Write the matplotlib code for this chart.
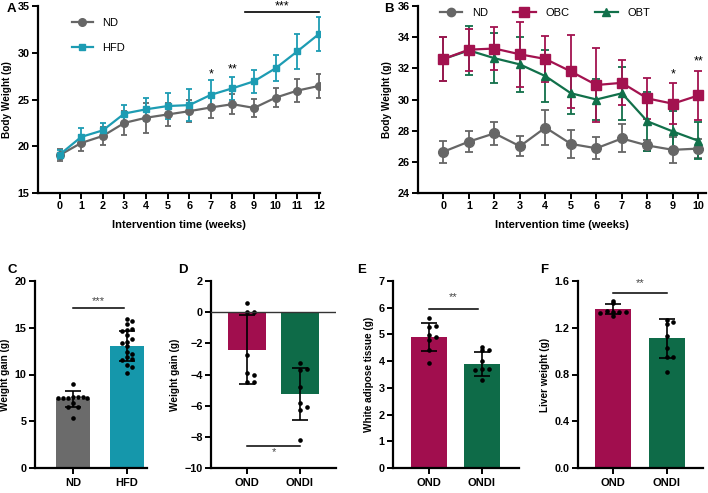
import numpy as np
import matplotlib
matplotlib.use('Agg')
from matplotlib import pyplot as plt
from matplotlib.lines import Line2D

plt.rcParams['font.family'] = ['Liberation Sans', 'DejaVu Sans']
plt.rcParams['font.weight'] = 'bold'
plt.rcParams['axes.labelweight'] = 'bold'

# ---- data ----
# A: body weight, ND vs HFD
weeks_a = list(range(13))
nd_a = [19.05, 20.35, 21.1, 22.5, 23.05, 23.4, 23.75, 24.15, 24.5, 24.1, 25.2, 25.95, 26.45]
nd_a_sd = [0.65, 0.85, 1.0, 1.3, 1.6, 1.2, 1.2, 1.1, 1.1, 1.0, 1.0, 1.25, 1.3]
hfd_a = [19.1, 21.0, 21.7, 23.5, 23.95, 24.3, 24.4, 25.5, 26.2, 26.95, 28.35, 30.15, 32.0]
hfd_a_sd = [0.5, 0.9, 0.8, 0.9, 1.25, 1.35, 1.7, 1.55, 1.25, 1.25, 1.4, 1.9, 1.85]

# B: body weight, ND / OBC / OBT
weeks_b = list(range(11))
nd_b = [26.65, 27.3, 27.83, 27.0, 28.2, 27.15, 26.87, 27.5, 27.05, 26.77, 26.85]
nd_b_sd = [0.7, 0.7, 0.72, 0.65, 1.1, 0.9, 0.7, 0.9, 0.35, 0.85, 0.6]
obc_b = [32.6, 33.2, 33.27, 32.9, 32.6, 31.8, 30.93, 31.07, 30.07, 29.73, 30.26]
obc_b_sd = [1.4, 1.35, 1.4, 2.1, 1.45, 2.35, 2.4, 1.45, 1.3, 1.3, 1.6]
obt_b = [32.6, 33.15, 32.65, 32.25, 31.5, 30.4, 30.0, 30.4, 28.6, 27.95, 27.35]
obt_b_sd = [1.4, 1.55, 1.6, 1.75, 1.65, 1.3, 1.3, 1.7, 1.9, 1.3, 1.2]

# C: weight gain ND / HFD
groups_c = ['ND', 'HFD']
mean_c = [7.39, 13.04]
sd_c = [0.87, 1.6]
dots_c = [
    [8.95, 7.55, 7.55, 7.5, 7.55, 7.5, 7.5, 7.45, 6.95, 6.5, 6.5, 5.4],
    [15.9, 15.7, 15.4, 14.75, 14.85, 14.6, 14.2, 13.75, 13.5, 13.4, 13.0,
     12.45, 12.2, 11.9, 11.7, 11.55, 11.0, 10.75, 10.2],
]

groups_o = ['OND', 'ONDI']
# D: weight gain
mean_d = [-2.4, -5.24]
sd_d = [2.22, 1.67]
dots_d = [
    [0.58, 0.04, 0.04, -2.74, -3.9, -4.06, -4.5, -4.5],
    [-3.27, -3.68, -3.64, -4.8, -5.8, -6.1, -6.3, -8.2],
]
# E: white adipose tissue
mean_e = [4.9, 3.9]
sd_e = [0.52, 0.45]
dots_e = [
    [5.6, 5.28, 5.32, 4.97, 4.9, 4.8, 4.43, 3.93],
    [4.52, 4.42, 4.4, 4.0, 3.72, 3.72, 3.68, 3.28],
]
# F: liver weight
mean_f = [1.36, 1.11]
sd_f = [0.045, 0.165]
dots_f = [
    [1.43, 1.41, 1.335, 1.335, 1.34, 1.335, 1.33, 1.30],
    [1.27, 1.235, 1.25, 1.13, 1.03, 0.95, 0.95, 0.82],
]

GREY = '#666666'
TEAL = '#1d9cb3'
MAG = '#a3124f'
GRN = '#11704a'

W, H = 708, 493
fig = plt.figure(figsize=(W / 100, H / 100), dpi=100)


def box(l, t, r, b):
    return [l / W, 1 - b / H, (r - l) / W, (b - t) / H]


def style(ax):
    for s in ['top', 'right']:
        ax.spines[s].set_visible(False)
    for s in ['left', 'bottom']:
        ax.spines[s].set_linewidth(1.6)
    ax.tick_params(width=1.4, length=4, labelsize=7.8, pad=2)
    for lab in ax.get_xticklabels() + ax.get_yticklabels():
        lab.set_fontweight('bold')


def swarm(vals, dx, dy):
    placed = []
    xs = []
    for v in vals:
        cands = [0]
        for k in range(1, 8):
            cands += [k * dx, -k * dx]
        for c in cands:
            ok = True
            for (pv, px) in placed:
                if abs(pv - v) < dy and abs(px - c) < dx * 0.95:
                    ok = False
                    break
            if ok:
                break
        placed.append((v, c))
        xs.append(c)
    return np.array(xs)


def handle(color, marker, ms):
    return Line2D([], [], color=color, marker=marker, ms=ms, lw=1.6)


# ---- A ----
ax = fig.add_axes(box(38, 6, 320, 193))
kw = dict(lw=1.6, elinewidth=1.3, capsize=2.3, capthick=1.3)
ax.errorbar(weeks_a, nd_a, yerr=nd_a_sd, color=GREY, marker='o', ms=5.5, **kw)
ax.errorbar(weeks_a, hfd_a, yerr=hfd_a_sd, color=TEAL, marker='s', ms=5, **kw)
ax.set_xlim(-1, 12.05)
ax.set_ylim(15, 35)
ax.set_xticks(weeks_a)
ax.set_yticks([15, 20, 25, 30, 35])
ax.set_xlabel('Intervention time (weeks)', fontsize=8, labelpad=6)
ax.set_ylabel('Body Weight (g)', fontsize=7.2, labelpad=4)
style(ax)
leg = ax.legend([handle(GREY, 'o', 5.5), handle(TEAL, 's', 5)], ['ND', 'HFD'],
                loc='upper left', bbox_to_anchor=(0.12, 0.935), frameon=False,
                fontsize=8, handlelength=1.9, labelspacing=1.35, borderpad=0,
                borderaxespad=0, handletextpad=0.8)
for t in leg.get_texts():
    t.set_fontweight('normal')
ax.text(7, 27.7, '*', ha='center', va='center', fontsize=9, fontweight='normal')
ax.text(8, 28.25, '**', ha='center', va='center', fontsize=9, fontweight='normal')
ax.plot([8.6, 12], [34.35, 34.35], color='black', lw=1.2, clip_on=False)
ax.text(10.3, 35.0, '***', ha='center', va='center', fontsize=9, fontweight='normal',
        clip_on=False)

# ---- B ----
ax = fig.add_axes(box(418, 6, 706, 193))
kw = dict(lw=1.6, elinewidth=1.3, capsize=2.8, capthick=1.3)
ax.errorbar(weeks_b, nd_b, yerr=nd_b_sd, color=GREY, marker='o', ms=7, **kw)
ax.errorbar(weeks_b, obt_b, yerr=obt_b_sd, color=GRN, marker='^', ms=6, **kw)
ax.errorbar(weeks_b, obc_b, yerr=obc_b_sd, color=MAG, marker='s', ms=7, **kw)
ax.set_xlim(-1, 10.3)
ax.set_ylim(24, 36)
ax.set_xticks(weeks_b)
ax.set_yticks(range(24, 37, 2))
ax.set_xlabel('Intervention time (weeks)', fontsize=8, labelpad=6)
ax.set_ylabel('Body Weight (g)', fontsize=7.2, labelpad=4)
style(ax)
leg = ax.legend([handle(GREY, 'o', 6), handle(MAG, 's', 7), handle(GRN, '^', 6)],
                ['ND', 'OBC', 'OBT'], loc='upper left',
                bbox_to_anchor=(0.075, 0.99), ncol=3, frameon=False, fontsize=8,
                handlelength=2.0, borderpad=0, borderaxespad=0, columnspacing=2.3,
                handletextpad=0.9)
for t in leg.get_texts():
    t.set_fontweight('normal')
ax.text(9, 31.6, '*', ha='center', va='center', fontsize=9, fontweight='normal')
ax.text(10, 32.45, '**', ha='center', va='center', fontsize=9, fontweight='normal',
        clip_on=False)


def bar_panel(rect, labels, means, sds, dots, colors, ylim, yticks, ylabel,
              xlim, width, dx, dy):
    ax = fig.add_axes(rect)
    x = np.arange(len(labels))
    ax.bar(x, means, width=width, color=colors, zorder=1)
    ax.errorbar(x, means, yerr=sds, fmt='none', ecolor='black', elinewidth=1.2,
                capsize=6, capthick=1.2, zorder=2)
    for i, vals in enumerate(dots):
        ax.scatter(i + swarm(vals, dx, dy), vals, s=11, color='black', zorder=3,
                   linewidths=0)
    ax.set_xlim(*xlim)
    ax.set_ylim(*ylim)
    ax.set_yticks(yticks)
    ax.set_xticks(x)
    ax.set_xticklabels(labels)
    ax.set_ylabel(ylabel, fontsize=7.2, labelpad=3)
    style(ax)
    ax.tick_params(axis='x', labelsize=8, pad=3)
    for lab in ax.get_xticklabels():
        lab.set_fontweight('bold')
    return ax


# ---- C ----
ax = bar_panel(box(35, 281, 147, 468), groups_c, mean_c, sd_c, dots_c,
               ['#6b6b6b', '#1597ab'], (0, 20), [0, 5, 10, 15, 20],
               'Weight gain (g)', (-0.7, 1.37), 0.63, 0.09, 0.5)
ax.plot([0, 0.95], [17.1, 17.1], color='black', lw=1.1)
ax.text(0.47, 17.85, '***', ha='center', va='center', fontsize=8, color='#444444',
        fontweight='normal')

# ---- D ----
ax = bar_panel(box(211, 281, 336, 468), groups_o, mean_d, sd_d, dots_d,
               ['#a10e4e', '#0e6b48'], (-10, 2), range(-10, 3, 2),
               'Weight gain (g)', (-0.68, 1.68), 0.7, 0.13, 0.35)
ax.axhline(0, color='#333333', lw=1.0, zorder=4)
ax.plot([0, 1], [-8.6, -8.6], color='black', lw=1.1)
ax.text(0.5, -9.0, '*', ha='center', va='center', fontsize=8, color='#444444',
        fontweight='normal')

# ---- E ----
ax = bar_panel(box(393, 281, 519, 468), groups_o, mean_e, sd_e, dots_e,
               ['#a10e4e', '#0e6b48'], (0, 7), range(0, 8),
               'White adipose tissue (g)', (-0.68, 1.7), 0.68, 0.13, 0.08)
ax.plot([0, 0.92], [5.97, 5.97], color='black', lw=1.1)
ax.text(0.46, 6.38, '**', ha='center', va='center', fontsize=8, color='#444444',
        fontweight='normal')

# ---- F ----
ax = bar_panel(box(578, 281, 703, 468), groups_o, mean_f, sd_f, dots_f,
               ['#a10e4e', '#0e6b48'], (0, 1.6), [0, 0.4, 0.8, 1.2, 1.6],
               'Liver weight (g)', (-0.65, 1.67), 0.67, 0.12, 0.02)
ax.set_yticklabels(['0.0', '0.4', '0.8', '1.2', '1.6'])
for lab in ax.get_yticklabels():
    lab.set_fontweight('bold')
ax.plot([0, 1], [1.5, 1.5], color='black', lw=1.1)
ax.text(0.5, 1.585, '**', ha='center', va='center', fontsize=8, color='#444444',
        fontweight='normal')

# panel letters
for letter, px, py in [('A', 7, 9), ('B', 384, 9), ('C', 7, 270), ('D', 178, 270),
                       ('E', 357, 270), ('F', 540, 270)]:
    fig.text(px / W, 1 - py / H, letter, fontsize=9.5, fontweight='bold',
             ha='left', va='center')

fig.savefig('out.png', dpi=100)
